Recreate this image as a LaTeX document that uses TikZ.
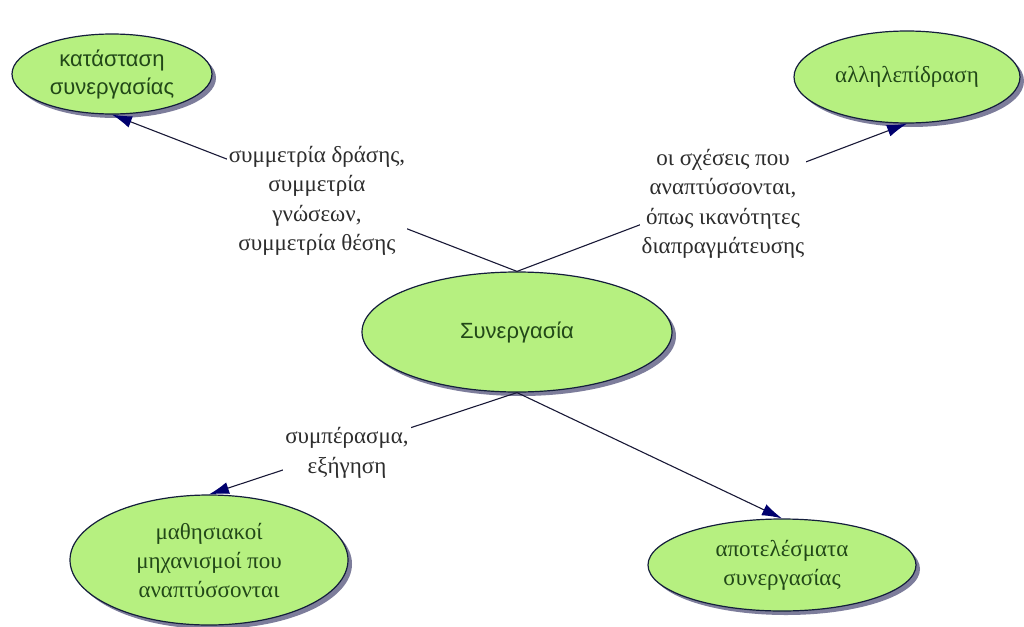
\documentclass[tikz,border=0pt]{standalone}
\usepackage{fontspec}
\setmainfont{Liberation Serif}
\newfontfamily\grsans{Liberation Sans}
\usetikzlibrary{shapes.geometric,arrows.meta,shadows}

\definecolor{bubblefill}{RGB}{182,240,128}
\definecolor{rim}{RGB}{20,30,60}
\definecolor{shade}{RGB}{125,125,155}
\definecolor{inktext}{RGB}{34,72,24}
\definecolor{labeltext}{RGB}{45,45,45}
\definecolor{wire}{RGB}{25,25,55}
\definecolor{tipcol}{RGB}{0,0,110}

\begin{document}
\begin{tikzpicture}[x=1pt,y=-1pt,
  bubble/.style={ellipse, draw=rim, line width=1.2pt, fill=bubblefill,
    inner sep=0pt, text=inktext, align=center,
    font=\fontsize{23}{29}\selectfont,
    drop shadow={shadow xshift=4pt, shadow yshift=-4pt, fill=shade, opacity=1}},
  sansbubble/.style={bubble, font=\grsans\fontsize{22}{28}\selectfont},
  conn/.style={draw=wire, line width=1.1pt,
    -{Latex[length=20pt,width=12pt,color=tipcol]}},
  lbl/.style={fill=white, inner sep=2pt, align=center, text=labeltext,
    font=\fontsize{23}{29.5}\selectfont}
]
\fill[white] (0,0) rectangle (1024,626);
\useasboundingbox (0,0) rectangle (1024,626);

% concept ellipses
\node[sansbubble, minimum width=200pt, minimum height=80pt] (tl) at (112,74)
  {κατάσταση\\συνεργασίας};
\node[bubble, minimum width=226pt, minimum height=92pt] (tr) at (907,77)
  {αλληλεπίδραση};
\node[sansbubble, minimum width=310pt, minimum height=120pt] (c) at (517,332)
  {Συνεργασία};
\node[bubble, minimum width=278pt, minimum height=130pt] (bl) at (209,560)
  {μαθησιακοί\\μηχανισμοί που\\αναπτύσσονται};
\node[bubble, minimum width=268pt, minimum height=92pt] (br) at (782,565)
  {αποτελέσματα\\συνεργασίας};

% relations
\draw[conn] (c.north) -- (tl.south);
\draw[conn] (c.north) -- (tr.south);
\draw[conn] (c.south) -- (bl.north);
\draw[conn] (c.south) -- (br.north);

% relation labels
\node[lbl] (l1) at (317,201)
  {συμμετρία δράσης,\\συμμετρία\\γνώσεων,\\συμμετρία θέσης};
\node[lbl] (l2) at (723,204)
  {οι σχέσεις που\\αναπτύσσονται,\\όπως ικανότητες\\διαπραγμάτευσης};
\node[lbl] (l3) at (347,453)
  {συμπέρασμα,\\εξήγηση};
\end{tikzpicture}
\end{document}
